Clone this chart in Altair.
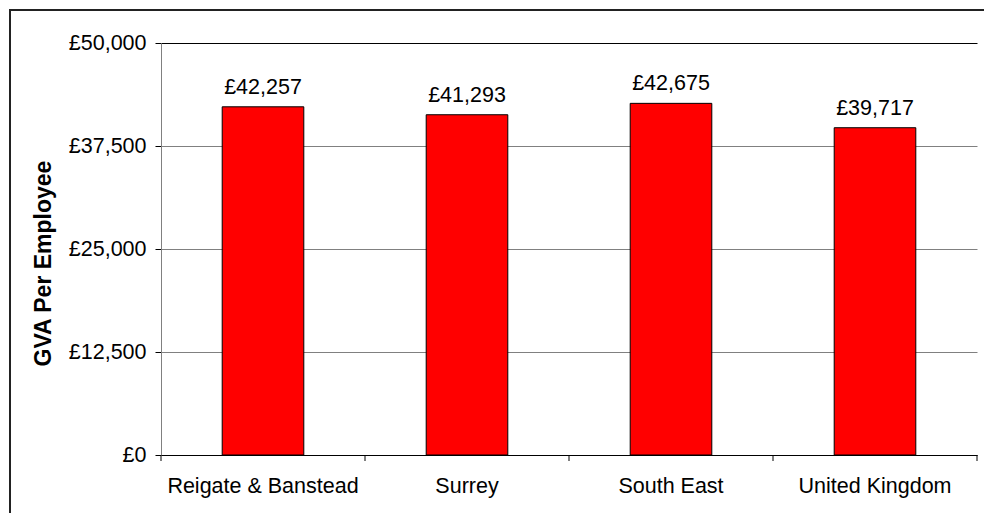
import altair as alt
import pandas as pd

categories = ["Reigate & Banstead", "Surrey", "South East", "United Kingdom"]
values = [42257, 41293, 42675, 39717]
y_ticks = [0, 12500, 25000, 37500, 50000]

df = pd.DataFrame({"area": categories, "gva": values})

W, H = 816, 412
FONT = "Liberation Sans"

x_scale = alt.Scale(domain=categories, paddingInner=0, paddingOuter=0)
y_scale = alt.Scale(domain=[0, 50000], nice=False)

base = alt.Chart(df)

bars = base.mark_bar(
    color="#FF0000", stroke="#000000", strokeWidth=1,
    width=alt.RelativeBandSize(0.4)
).encode(
    x=alt.X("area:N", scale=x_scale, sort=categories, title=None,
            axis=alt.Axis(labelAngle=0, ticks=False, labelPadding=20,
                          domainColor="#000000", labelFontSize=21.5,
                          labelFont=FONT, labelColor="#000000",
                          labelLimit=0, grid=False)),
    y=alt.Y("gva:Q", scale=y_scale, title="GVA Per Employee",
            axis=alt.Axis(values=y_ticks,
                          labelExpr="'£' + format(datum.value, ',')",
                          tickSize=6, tickColor="#000000",
                          domainColor="#808080",
                          labelPadding=9, labelFontSize=21.5,
                          labelFont=FONT, labelColor="#000000",
                          titleFont=FONT, titleFontSize=23,
                          titleFontWeight="bold", titleColor="#000000",
                          titleX=-118, titleY=220, titleAngle=270,
                          titleAlign="center", titleBaseline="middle",
                          grid=True,
                          gridColor={"condition": {"test": "datum.value == 50000", "value": "#000000"},
                                     "value": "#808080"})),
)

labels = base.transform_calculate(
    lbl="'£' + format(datum.gva, ',')"
).mark_text(
    baseline="alphabetic", dy=-13, fontSize=21.5, font=FONT, color="#000000"
).encode(
    x=alt.X("area:N", scale=x_scale, sort=categories),
    y=alt.Y("gva:Q", scale=y_scale),
    text="lbl:N",
)

ticks = base.mark_rule(color="#000000", strokeWidth=1).encode(
    x=alt.X("area:N", scale=x_scale, sort=categories, bandPosition=0),
    y=alt.value(H),
    y2=alt.value(H + 6),
)

end_tick = base.transform_filter(alt.datum.area == categories[-1]).mark_rule(
    color="#000000", strokeWidth=1
).encode(
    x=alt.value(W),
    y=alt.value(H),
    y2=alt.value(H + 6),
)

frame = base.transform_filter(alt.datum.area == categories[0]).mark_rect(
    fill=None, stroke="#222222", strokeWidth=2
).encode(
    x=alt.value(-151), x2=alt.value(W + 40),
    y=alt.value(-33), y2=alt.value(H + 120),
)

chart = alt.layer(frame, bars, labels, ticks, end_tick).properties(
    width=W, height=H,
    autosize=alt.AutoSizeParams(type="none"),
    padding={"left": 161, "top": 43, "right": 7, "bottom": 58},
    background="#FFFFFF",
).configure_view(stroke=None)

chart.save("out.html", embed_options={"renderer": "svg", "actions": False})
